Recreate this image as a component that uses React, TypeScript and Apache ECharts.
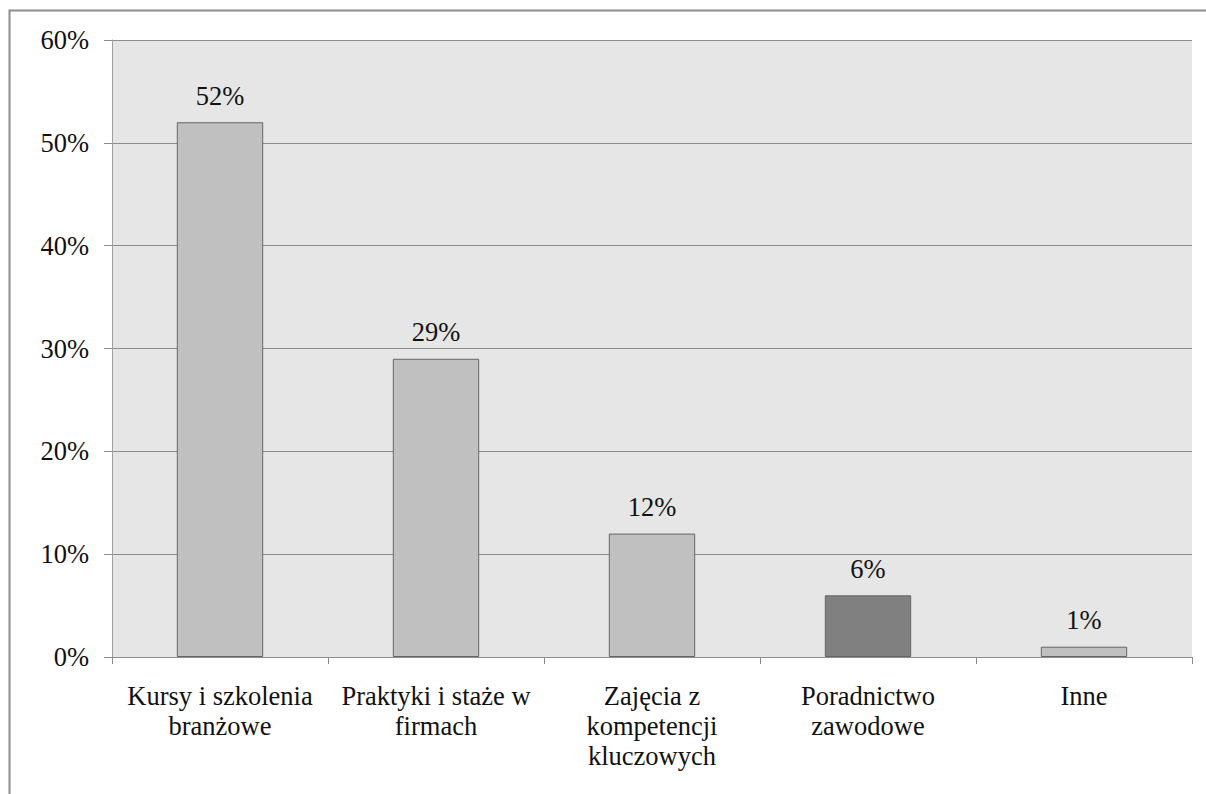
import React, { useEffect, useRef } from "react";
import * as echarts from "echarts";

const categories = [
  "Kursy i szkolenia\nbranżowe",
  "Praktyki i staże w\nfirmach",
  "Zajęcia z\nkompetencji\nkluczowych",
  "Poradnictwo\nzawodowe",
  "Inne",
];
const values = [52, 29, 12, 6, 1];
const barColors = ["#c0c0c0", "#c0c0c0", "#c0c0c0", "#808080", "#c0c0c0"];

const FONT = "Times New Roman, Liberation Serif, DejaVu Serif, serif";

export default function App() {
  const ref = useRef<HTMLDivElement>(null);
  useEffect(() => {
    if (!ref.current) return;
    const chart = echarts.init(ref.current, undefined, { renderer: "svg" });
    chart.setOption({
      animation: false,
      backgroundColor: "#ffffff",
      textStyle: { fontFamily: FONT },
      graphic: [
        {
          type: "rect",
          shape: { x: 9.5, y: 10.5, width: 1400, height: 1000 },
          style: { fill: "none", stroke: "#8c8c8c", lineWidth: 2 },
          silent: true,
          z: 100,
        },
      ],
      grid: {
        left: 112,
        top: 40,
        right: 14,
        bottom: 137,
        show: true,
        backgroundColor: "#e6e6e6",
        borderWidth: 0,
      },
      xAxis: {
        type: "category",
        data: categories,
        axisLine: { show: true, lineStyle: { color: "#8c8c8c", width: 1 } },
        axisTick: { show: true, length: 7, alignWithLabel: false, lineStyle: { color: "#8c8c8c" } },
        axisLabel: {
          color: "#111",
          fontFamily: FONT,
          fontSize: 26.5,
          lineHeight: 30,
          margin: 24,
          interval: 0,
        },
        splitLine: { show: false },
      },
      yAxis: {
        type: "value",
        min: 0,
        max: 60,
        interval: 10,
        axisLine: { show: true, lineStyle: { color: "#a0a0a0", width: 1 } },
        axisTick: { show: true, length: 8, lineStyle: { color: "#8c8c8c" } },
        axisLabel: {
          color: "#111",
          fontFamily: FONT,
          fontSize: 26.5,
          margin: 23,
          formatter: "{value}%",
        },
        splitLine: { show: true, lineStyle: { color: "#8c8c8c", width: 1 } },
      },
      series: [
        {
          type: "bar",
          barWidth: "40%",
          data: values.map((v, i) => ({
            value: v,
            itemStyle: { color: barColors[i], borderColor: "#666666", borderWidth: 1 },
          })),
          label: {
            show: true,
            position: "top",
            distance: 13,
            color: "#111",
            fontFamily: FONT,
            fontSize: 26.5,
            formatter: "{c}%",
          },
        },
      ],
    });
    return () => chart.dispose();
  }, []);
  return (
    <div
      ref={ref}
      style={{ position: "fixed", left: 0, top: 0, width: 1206, height: 794 }}
    />
  );
}
